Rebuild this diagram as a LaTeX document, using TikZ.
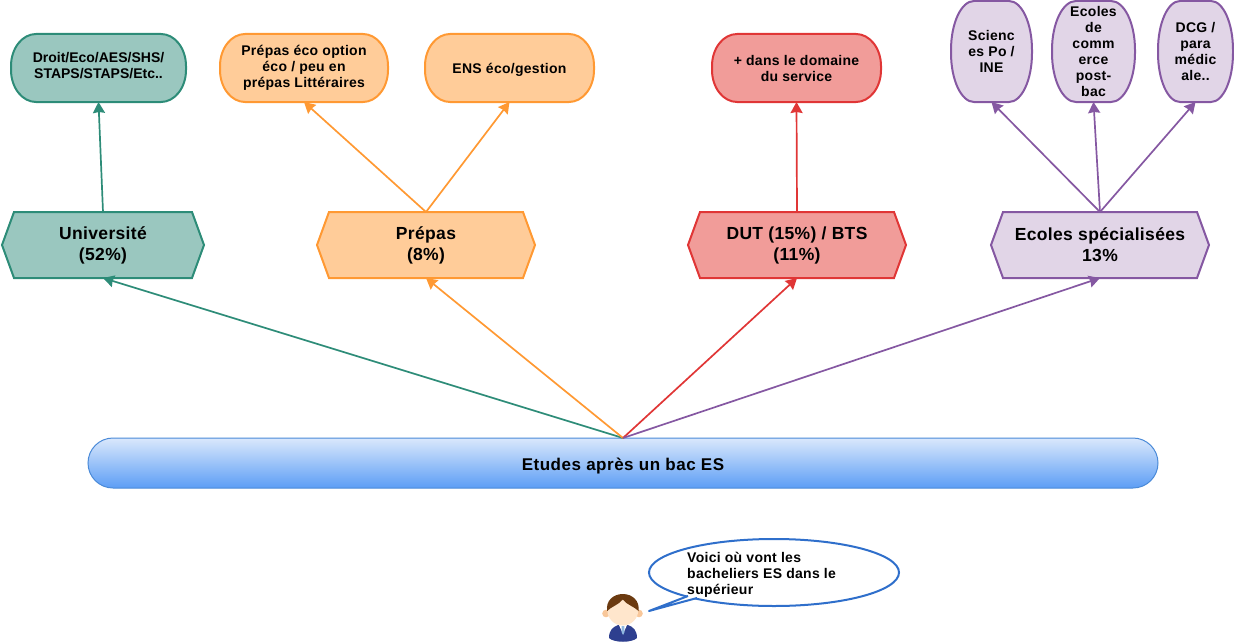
\documentclass[tikz,border=0pt]{standalone}
\usepackage{fontspec}
\setmainfont{Liberation Sans}
\newfontfamily\wideb[LetterSpace=2,BoldFont={Liberation Sans Bold}]{Liberation Sans}
\newfontfamily\widec[LetterSpace=3,BoldFont={Liberation Sans Bold}]{Liberation Sans}
\usetikzlibrary{arrows.meta,shapes.symbols,shapes.geometric}
\definecolor{tealF}{HTML}{9AC7BF}\definecolor{tealD}{HTML}{2D8C78}
\definecolor{oraF}{HTML}{FFCC99}\definecolor{oraD}{HTML}{FF9933}
\definecolor{redF}{HTML}{F19C99}\definecolor{redD}{HTML}{E03636}
\definecolor{purF}{HTML}{E1D5E7}\definecolor{purD}{HTML}{8558A2}
\definecolor{barD}{HTML}{4A8AD8}\definecolor{barT}{HTML}{DAE8FC}\definecolor{barB}{HTML}{5C9DF5}
\definecolor{callD}{HTML}{2F6FCB}
\definecolor{skinC}{HTML}{FFE6CC}\definecolor{skinE}{HTML}{F8C79A}
\definecolor{hairC}{HTML}{6B3A10}\definecolor{suitC}{HTML}{2E3F8F}\definecolor{tieC}{HTML}{8FB8E0}
\tikzset{
  hexbox/.style={signal,signal to=east and west,signal pointer angle=140,line width=2pt,
    inner sep=0pt,outer sep=0pt,minimum width=#1,minimum height=66pt,align=center,
    font=\fontsize{17.5}{21}\wideb\bfseries,execute at begin node={\vspace*{2pt}}},
  softtext/.style={inner sep=0pt,outer sep=0pt,align=center,
    font=\fontsize{14}{16}\wideb\bfseries},
  softtextdown/.style={softtext,execute at begin node={\vspace*{2pt}}},
  link/.style={line width=1.7pt,-{Stealth[length=11pt,width=12pt,inset=1pt]}},
}
% #1 cx, #2 cy, #3 w, #4 h, #5 rx, #6 ry, #7 draw, #8 fill
\newcommand{\softbox}[8]{%
  \draw[draw=#7,fill=#8,line width=2pt]
    ({#1-#3/2},{#2-#4/2+#6}) arc[start angle=180,end angle=270,x radius=#5,y radius=#6]
    -- ({#1+#3/2-#5},{#2-#4/2}) arc[start angle=270,end angle=360,x radius=#5,y radius=#6]
    -- ({#1+#3/2},{#2+#4/2-#6}) arc[start angle=0,end angle=90,x radius=#5,y radius=#6]
    -- ({#1-#3/2+#5},{#2+#4/2}) arc[start angle=90,end angle=180,x radius=#5,y radius=#6]
    -- cycle;}
\begin{document}
\begin{tikzpicture}[x=1pt,y=-1pt]
\useasboundingbox (0,0) rectangle (1234,642);
% level 2
\node[hexbox=202pt,draw=tealD,fill=tealF] (uni) at (103,245) {Université\\(52\%)};
\node[hexbox=218pt,draw=oraD,fill=oraF] (pre) at (426,245) {Prépas\\(8\%)};
\node[hexbox=218pt,draw=redD,fill=redF] (dut) at (797,245) {DUT (15\%) / BTS\\(11\%)};
\node[hexbox=218pt,draw=purD,fill=purF] (eco) at (1100,245) {Ecoles spécialisées\\13\%};
% top row
\softbox{98.5}{68}{175}{68}{25}{32}{tealD}{tealF}
\softbox{304}{68}{168}{68}{25}{32}{oraD}{oraF}
\softbox{509.5}{68}{169}{68}{25}{32}{oraD}{oraF}
\softbox{796.5}{68}{169}{68}{25}{32}{redD}{redF}
\softbox{991.5}{51.5}{81}{101}{23}{49}{purD}{purF}
\softbox{1093.5}{51.5}{83}{101}{24}{49}{purD}{purF}
\softbox{1195.5}{51.5}{75}{101}{22}{49}{purD}{purF}
\node[softtext,minimum width=175pt,minimum height=72pt,font=\fontsize{14}{16}\selectfont\bfseries] (droit) at (98.5,66) {Droit/Eco/AES/SHS/\\STAPS/STAPS/Etc..};
\node[softtextdown,minimum width=168pt,minimum height=68pt] (peco) at (304,68) {Prépas éco option\\éco / peu en\\prépas Littéraires};
\node[softtext,minimum width=169pt,minimum height=64pt] (ens) at (509.5,70) {ENS éco/gestion};
\node[softtextdown,minimum width=169pt,minimum height=68pt] (dom) at (796.5,68) {+ dans le domaine\\du service};
\node[softtextdown,minimum width=81pt,minimum height=101pt] (sci) at (991.5,51.5) {Scienc\\es Po /\\INE};
\node[softtextdown,minimum width=83pt,minimum height=101pt] (com) at (1093.5,51.5) {Ecoles\\de\\comm\\erce\\post-\\bac};
\node[softtextdown,minimum width=75pt,minimum height=101pt] (dcg) at (1195.5,51.5) {DCG /\\para\\médic\\ale..};
% bar
\node[rounded corners=25pt,draw=barD,line width=1pt,top color=barT,bottom color=barB,
  minimum width=1070pt,minimum height=50pt,inner sep=0pt,outer sep=0pt,
  font=\fontsize{17}{20}\widec\bfseries] (bar) at (623,463) {\raisebox{-7pt}[0pt][0pt]{Etudes après un bac ES}};
% connectors
\draw[link,draw=tealD,fill=tealD] (bar.north) -- (uni.south);
\draw[link,draw=oraD,fill=oraD] (bar.north) -- (pre.south);
\draw[link,draw=redD,fill=redD] (bar.north) -- (dut.south);
\draw[link,draw=purD,fill=purD] (bar.north) -- (eco.south);
\draw[link,draw=tealD,fill=tealD] (uni.north) -- (droit.south);
\draw[link,draw=oraD,fill=oraD] (pre.north) -- (peco.south);
\draw[link,draw=oraD,fill=oraD] (pre.north) -- (ens.south);
\draw[link,draw=redD,fill=redD] (dut.north) -- (dom.south);
\draw[link,draw=purD,fill=purD] (eco.north) -- (sci.south);
\draw[link,draw=purD,fill=purD] (eco.north) -- (com.south);
\draw[link,draw=purD,fill=purD] (eco.north) -- (dcg.south);
% callout
\node[ellipse,draw=callD,line width=2pt,fill=white,minimum width=250pt,minimum height=67pt,inner sep=0pt,outer sep=0pt] (call) at (774,572.5) {};
\fill[white] (688,596) -- (649,611) -- (697,598) -- (697,594) -- (688,592) -- cycle;
\draw[callD,line width=2pt,line join=round] (688,596) -- (649,611) -- (697,598);
\node[anchor=north west,align=left,inner sep=0pt,font=\fontsize{14}{16}\wideb\bfseries] (ctext) at (687,552.5) {Voici où vont les\\bacheliers ES dans le\\supérieur};
% person
\fill[skinE] (606,613.5) circle[radius=3.8] (639,613.5) circle[radius=3.8];
\fill[suitC] (609,638) .. controls (609,630) and (613,627) .. (618,625) -- (628,625) .. controls (633,627) and (637,630) .. (637,638) .. controls (632,643) and (614,643) .. (609,638) -- cycle;
\fill[white] (619,625) -- (627,625) -- (623,634) -- cycle;
\fill[tieC] (621.7,626) -- (624.3,626) -- (624.5,632) -- (623,635) -- (621.5,632) -- cycle;
\fill[skinC] (622.8,610) ellipse[x radius=15.5,y radius=15.5];
\fill[hairC] (607.2,611) .. controls (605.5,601) and (613,594) .. (622.8,594) .. controls (632.5,594) and (640,601) .. (638.5,611) .. controls (635,607) and (627,605) .. (622.8,599.5) .. controls (618.5,605) and (610.5,607) .. (607.2,611) -- cycle;
\end{tikzpicture}
\end{document}
